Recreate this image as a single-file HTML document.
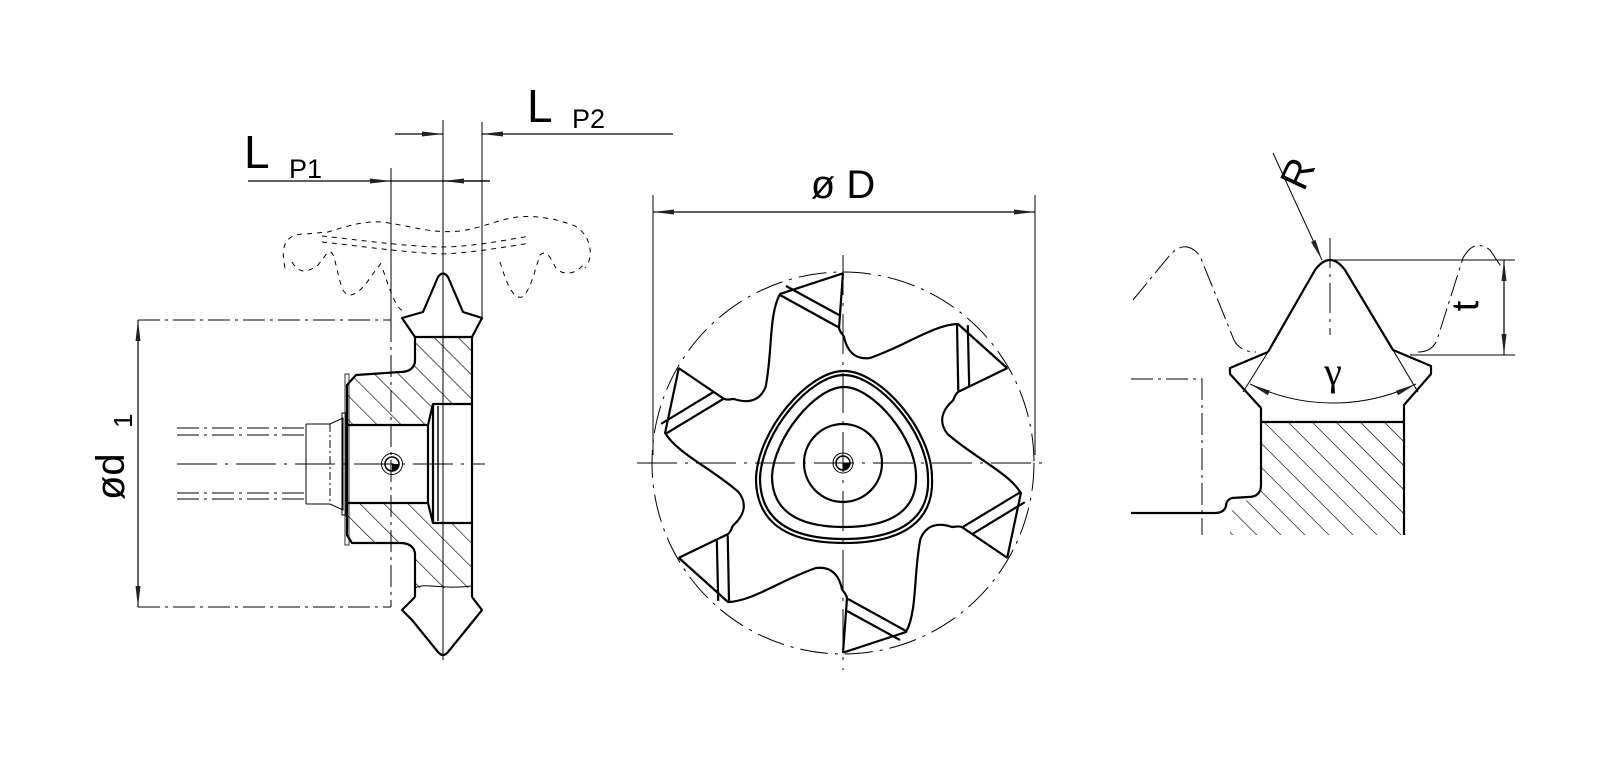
<!DOCTYPE html>
<html><head><meta charset="utf-8"><style>
html,body{margin:0;padding:0;background:#fff;}
svg{display:block}
text{font-family:"Liberation Sans",sans-serif;fill:#000}
</style></head><body>
<svg width="1600" height="765" viewBox="0 0 1600 765" xmlns="http://www.w3.org/2000/svg">
<defs>
<pattern id="h" width="17" height="17" patternUnits="userSpaceOnUse" patternTransform="rotate(-45)">
<line x1="0" y1="0" x2="0" y2="17" stroke="#000" stroke-width="1.3"/>
</pattern>
<marker id="a" markerWidth="22" markerHeight="8" refX="21" refY="4" orient="auto" markerUnits="userSpaceOnUse">
<path d="M0,1.5 L21,4 L0,6.5 Z" fill="#222"/>
</marker>
<marker id="b" markerWidth="22" markerHeight="8" refX="1" refY="4" orient="auto" markerUnits="userSpaceOnUse">
<path d="M22,1.5 L1,4 L22,6.5 Z" fill="#222"/>
</marker>
</defs>

<!-- ============ LEFT VIEW ============ -->
<g fill="none" stroke="#000">
<!-- dimension Lp1 / Lp2 -->
<line x1="248" y1="181" x2="391" y2="181" stroke-width="1.2" marker-end="url(#a)"/>
<line x1="391" y1="181" x2="490" y2="181" stroke-width="1.2"/>
<line x1="490" y1="181" x2="443" y2="181" stroke-width="1.2" marker-end="url(#a)"/>
<line x1="395" y1="134" x2="443" y2="134" stroke-width="1.2" marker-end="url(#a)"/>
<line x1="673" y1="134" x2="482" y2="134" stroke-width="1.2" marker-end="url(#a)"/>
<line x1="443" y1="120" x2="443" y2="660" stroke-width="1"/>
<line x1="482" y1="122" x2="482" y2="320" stroke-width="1"/>
<line x1="391" y1="168" x2="391" y2="320" stroke-width="1"/>
<line x1="391" y1="320" x2="391" y2="607" stroke-width="1" stroke-dasharray="22,5,3,5"/>
<!-- d1 ext -->
<line x1="138" y1="320" x2="391" y2="320" stroke-width="1" stroke-dasharray="22,5,3,5"/>
<line x1="138" y1="607" x2="391" y2="607" stroke-width="1" stroke-dasharray="22,5,3,5"/>
<line x1="138" y1="464" x2="138" y2="320" stroke-width="1.2" marker-end="url(#a)"/>
<line x1="138" y1="464" x2="138" y2="607" stroke-width="1.2" marker-end="url(#a)"/>
<!-- dashed gear -->
<g stroke-width="1" stroke-dasharray="5,5">
<path d="M285,268 C280,245 286,234 305,234 L328,232 C350,225 365,221 382,222 C412,226 432,234 460,231 C482,228 500,219 518,217 C540,215 560,220 575,226 C592,236 594,258 585,268"/>
<path d="M322,236 C360,240 400,246 440,247 C470,247 500,241 530,236"/>
<path d="M322,242 C360,246 400,252 440,254 C470,253 500,248 530,243"/>
<path d="M292,262 C300,275 308,272 318,265 L328,252 C335,250 334,262 342,288 C347,300 358,297 372,275 L382,262"/>
<path d="M500,262 C505,278 512,300 522,297 C530,292 535,270 540,255 C548,248 552,262 556,268 C565,278 580,272 585,262"/>
<path d="M383,270 C390,290 396,310 405,312"/>
</g>
<!-- hatch areas -->
<path d="M415,337 L472,337 L472,404 L433,404 L428,425 L347,425 L347,385 L356,375 L400,372 Q413,372 415,362 Z" fill="url(#h)" stroke="none"/>
<path d="M347,503 L428,503 L433,523 L472,523 L472,588 L415,588 L415,553 Q413,543 400,543 L352,543 L347,535 Z" fill="url(#h)" stroke="none"/>
<g stroke-width="2.2" stroke-linejoin="round">
<path d="M415,337 L402,318 L423,312 L438,277 Q443,270 448,277 L463,312 L482,318 L472,337 Z"/>
<path d="M415,337 L415,362 Q413,372 400,372 L356,375 L347,385 L347,535 L352,543 L400,543 Q413,543 415,553 L415,597"/>
<path d="M472,337 L472,597"/>
<path d="M415,597 L402,610 L412,620 L438,652 Q443,658 448,652 L474,620 L482,610 L472,597"/>
<path d="M347,425 L428,425 L433,404 L472,404"/>
<path d="M347,503 L428,503 L433,523 L472,523"/>
<line x1="428" y1="425" x2="428" y2="503"/>
<line x1="433" y1="404" x2="433" y2="523"/>
<line x1="438" y1="406" x2="438" y2="521" stroke-width="1.4"/>
</g>
<path d="M415,588 C425,582 440,590 472,586" stroke-width="1"/>
<rect x="345" y="374" width="4" height="171" stroke-width="0.8"/>
<!-- shaft -->
<g stroke-width="1">
<line x1="177" y1="428" x2="306" y2="428" stroke-dasharray="22,5,3,5"/>
<line x1="177" y1="435" x2="306" y2="435" stroke-dasharray="22,5,3,5"/>
<line x1="177" y1="493" x2="306" y2="493" stroke-dasharray="22,5,3,5"/>
<line x1="177" y1="499" x2="306" y2="499" stroke-dasharray="22,5,3,5"/>
<line x1="177" y1="464" x2="485" y2="464" stroke-dasharray="40,8,3,8"/>
<path d="M306,424 L306,504 M306,424 L330,424 L343,418 L343,510 L330,504 L306,504"/>
<line x1="330" y1="424" x2="330" y2="504" stroke-dasharray="8,3,2,3"/>
<rect x="342" y="413" width="4" height="102"/>
</g>
<circle cx="392" cy="464" r="10.5" stroke-width="1"/>
<circle cx="392" cy="464" r="7" stroke-width="1.5"/>
<path d="M392,464 L399,464 A7,7 0 0 1 392,471 Z" fill="#000" stroke="none"/>
</g>
<text x="244" y="168" font-size="46">L</text>
<text x="289" y="178" font-size="27">P1</text>
<text x="527" y="122" font-size="46">L</text>
<text x="572" y="128" font-size="27">P2</text>
<g transform="translate(124,500) rotate(-90)">
<text x="0" y="0" font-size="40">ød</text>
<text x="72" y="8" font-size="26">1</text>
</g>

<!-- ============ CENTER VIEW ============ -->
<g fill="none" stroke="#000">
<line x1="653" y1="195" x2="653" y2="455" stroke-width="1"/>
<line x1="1035" y1="195" x2="1035" y2="455" stroke-width="1"/>
<line x1="843" y1="212" x2="653" y2="212" stroke-width="1.2" marker-end="url(#a)"/>
<line x1="843" y1="212" x2="1035" y2="212" stroke-width="1.2" marker-end="url(#a)"/>
<circle cx="843" cy="463" r="191" stroke-width="1" stroke-dasharray="28,7,3,7"/>
<line x1="637" y1="463" x2="1050" y2="463" stroke-width="1" stroke-dasharray="40,8,3,8"/>
<line x1="843" y1="255" x2="843" y2="670" stroke-width="1" stroke-dasharray="40,8,3,8"/>
<g transform="translate(843,463)" stroke-width="2.2" stroke-linejoin="round">
<g id="seg">
<path d="M0,-190 L-4,-135 C-3,-130 0,-129 1,-126 C4,-112 12,-103 27,-105 C60,-116 92,-139 115,-139 L164,-95"/>
<line x1="-63" y1="-168" x2="-5" y2="-136"/>
<line x1="-57" y1="-177" x2="-4" y2="-148"/>
</g>
<use href="#seg" transform="rotate(60)"/>
<use href="#seg" transform="rotate(120)"/>
<use href="#seg" transform="rotate(180)"/>
<use href="#seg" transform="rotate(240)"/>
<use href="#seg" transform="rotate(300)"/>
<path d="M1,-92 C37,-92 89,-33 89,15 C91,57 62,80 1,80 C-60,80 -87,57 -87,15 C-85,-33 -35,-92 1,-92 Z"/>
<path d="M1,-88 C35,-88 85,-31 85,15 C87,54 59,76 1,76 C-57,76 -83,54 -83,15 C-81,-31 -33,-88 1,-88 Z"/>
<path d="M1,-76 C30,-76 73,-25 73,13 C74,46 50,64 1,64 C-48,64 -71,46 -71,13 C-69,-25 -28,-76 1,-76 Z"/>
<circle cx="0" cy="0" r="39"/>
<circle cx="0" cy="0" r="10" stroke-width="1"/>
<circle cx="0" cy="0" r="7" stroke-width="1.5"/>
<path d="M0,0 L7,0 A7,7 0 0 1 0,7 Z" fill="#000" stroke="none"/>
</g>
</g>
<text x="843" y="198" font-size="40" text-anchor="middle">ø D</text>

<!-- ============ RIGHT VIEW ============ -->
<g fill="none" stroke="#000">
<g stroke-width="1" stroke-dasharray="22,5,3,5">
<path d="M1133,300 L1170,255 Q1186,238 1200,256 L1234,340 Q1240,352 1256,352"/>
<path d="M1418,352 Q1432,352 1437,340 L1463,258 Q1474,238 1490,250 L1502,268"/>
<path d="M1131,379 L1202,379 L1202,535"/>
</g>
<path d="M1261,422 L1404,422 L1404,535 L1230,535 L1230,512 L1261,490 Z" fill="url(#h)" stroke="none"/>
<g stroke-width="2.2" stroke-linejoin="round">
<path d="M1268,352 L1315,270 Q1330,250 1345,270 L1393,350 L1431,366 L1431,374 L1404,405 L1404,535"/>
<path d="M1268,352 L1230,368 L1230,374 L1261,408 L1261,485 Q1261,497 1248,497 L1232,498 Q1226,500 1226,506 Q1224,513 1215,513 L1131,513"/>
<line x1="1261" y1="422" x2="1404" y2="422"/>
</g>
<line x1="1330" y1="260" x2="1515" y2="260" stroke-width="1"/>
<line x1="1410" y1="355" x2="1515" y2="355" stroke-width="1"/>
<line x1="1330" y1="238" x2="1330" y2="335" stroke-width="1" stroke-dasharray="30,6,3,6"/>
<line x1="1504" y1="308" x2="1504" y2="260" stroke-width="1.2" marker-end="url(#a)"/>
<line x1="1504" y1="308" x2="1504" y2="355" stroke-width="1.2" marker-end="url(#a)"/>
<line x1="1273" y1="153" x2="1322" y2="260" stroke-width="1" marker-end="url(#a)"/>
<line x1="1268" y1="352" x2="1243" y2="392" stroke-width="1"/>
<line x1="1393" y1="350" x2="1418" y2="392" stroke-width="1"/>
<path d="M1333,403 Q1290,403 1250,384" stroke-width="1" marker-end="url(#a)"/>
<path d="M1333,403 Q1376,403 1416,384" stroke-width="1" marker-end="url(#a)"/>
</g>
<text transform="translate(1290,170) rotate(-65)" x="0" y="22" font-size="40" text-anchor="middle">R</text>
<text x="1333" y="385" font-family="Liberation Serif" font-size="40" text-anchor="middle" style="font-family:'Liberation Serif',serif">γ</text>
<text transform="translate(1478,306) rotate(-90)" x="0" y="0" font-size="38" text-anchor="middle">t</text>
</svg>
</body></html>
